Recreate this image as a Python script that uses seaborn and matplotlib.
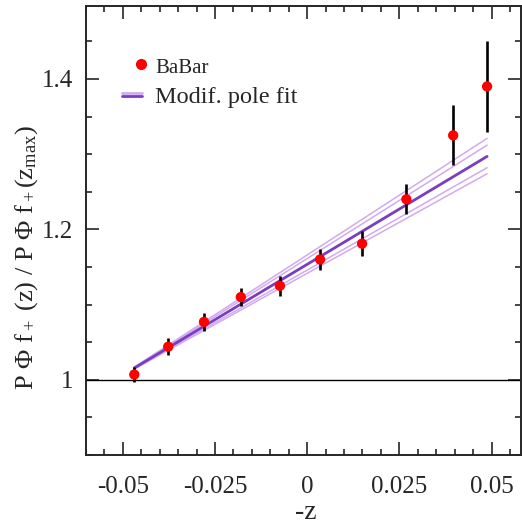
import numpy as np
import pandas as pd
import matplotlib
matplotlib.use("Agg")
import matplotlib.pyplot as plt
import seaborn as sns
from matplotlib.lines import Line2D
from matplotlib.legend_handler import HandlerBase
from matplotlib.ticker import MultipleLocator

# BaBar data points (-z, ratio, error)
minus_z = [-0.0469, -0.0377, -0.0280, -0.0180, -0.0074, 0.0035, 0.0149, 0.0269, 0.0396, 0.0488]
ratio = [1.007, 1.044, 1.077, 1.110, 1.125, 1.160, 1.181, 1.240, 1.325, 1.390]
ratio_err = [0.010, 0.011, 0.012, 0.012, 0.013, 0.014, 0.017, 0.020, 0.040, 0.061]

# modified pole fit: central curve and error band curves (start / end values)
fit_x = [-0.0469, 0.0488]
fit_central = [1.0156, 1.297]
fit_band = {
    "up2": [1.0170, 1.321],
    "up1": [1.0163, 1.312],
    "dn1": [1.0150, 1.282],
    "dn2": [1.0143, 1.274],
}

DARK = "#7a3dbf"
LIGHT = "#d2aaf0"

sns.set_style("ticks")
plt.rcParams["font.family"] = ["Liberation Serif", "DejaVu Serif"]
plt.rcParams["mathtext.fontset"] = "custom"
plt.rcParams["mathtext.rm"] = "Liberation Serif"
plt.rcParams["mathtext.it"] = "Liberation Serif"


class DoubleLineHandler(HandlerBase):
    def create_artists(self, legend, orig_handle, xd, yd, width, height, fontsize, trans):
        y0 = height / 2.0 - yd
        l1 = Line2D([-xd, -xd + width], [y0 + 1.5, y0 + 1.5], color=LIGHT, lw=2, transform=trans)
        l2 = Line2D([-xd, -xd + width], [y0 - 1.0, y0 - 1.0], color=DARK, lw=2, transform=trans)
        return [l1, l2]


class RightDotHandler(HandlerBase):
    def create_artists(self, legend, orig_handle, xd, yd, width, height, fontsize, trans):
        dot = Line2D([-xd + width * 0.95], [height / 2.0 - yd], marker="o", color="red",
                     ls="none", markersize=7, transform=trans)
        return [dot]


fig = plt.figure(figsize=(5.22, 5.29), dpi=100)
ax = fig.add_axes([86 / 522, 1 - 455 / 529, 435 / 522, 449 / 529])

ax.axhline(1.0, color="black", lw=1.0, zorder=1)

for name, vals in fit_band.items():
    df_b = pd.DataFrame({"x": fit_x, "y": vals})
    sns.lineplot(data=df_b, x="x", y="y", ax=ax, color=LIGHT, lw=1.1, zorder=2)
df_c = pd.DataFrame({"x": fit_x, "y": fit_central})
sns.lineplot(data=df_c, x="x", y="y", ax=ax, color=DARK, lw=2.0, zorder=3)

ax.errorbar(minus_z, ratio, yerr=ratio_err, fmt="none", ecolor="black", elinewidth=1.9, capsize=0, zorder=4)
df_p = pd.DataFrame({"x": minus_z, "y": ratio})
sns.scatterplot(data=df_p, x="x", y="y", ax=ax, color="red", s=55, edgecolor="none", zorder=5)

ax.set_xlim(-0.06, 0.058)
ax.set_ylim(0.9, 1.497)
ax.set_xticks([-0.05, -0.025, 0, 0.025, 0.05])
ax.set_xticklabels(["-0.05", "-0.025", "0", "0.025", "0.05"])
ax.set_yticks([1.0, 1.2, 1.4])
ax.set_yticklabels(["1", "1.2", "1.4"])
ax.xaxis.set_minor_locator(MultipleLocator(0.005))
ax.yaxis.set_minor_locator(MultipleLocator(0.05))
ax.tick_params(which="both", direction="in", top=True, right=True, width=1.2, labelsize=18)
ax.tick_params(which="major", length=9.5)
ax.tick_params(axis="x", which="major", pad=15)
ax.tick_params(axis="y", which="major", pad=9)
ax.tick_params(which="minor", length=4.5)
for sp in ax.spines.values():
    sp.set_linewidth(1.4)
    sp.set_visible(True)

ax.set_xlabel("-z", fontsize=20)
ax.xaxis.set_label_coords(0.505, -0.1)
ax.set_ylabel(r"P $\Phi$ f$_+$ (z) / P $\Phi$ f$_+$(z$_{\rm max}$)", fontsize=19)
ax.yaxis.set_label_coords(-0.105, 0.44)

handles = [
    Line2D([], [], marker="o", color="red", ls="none"),
    Line2D([], [], color=DARK),
]
leg = ax.legend(handles, ["BaBar", "Modif. pole fit"],
                handler_map={handles[0]: RightDotHandler(), handles[1]: DoubleLineHandler()},
                loc="upper left", bbox_to_anchor=(0.032, 0.938), frameon=False,
                handlelength=0.82, handletextpad=0.55, labelspacing=0.35, fontsize=17.5)
leg.get_texts()[0].set_fontsize(15)

fig.savefig("out.png", dpi=100)
